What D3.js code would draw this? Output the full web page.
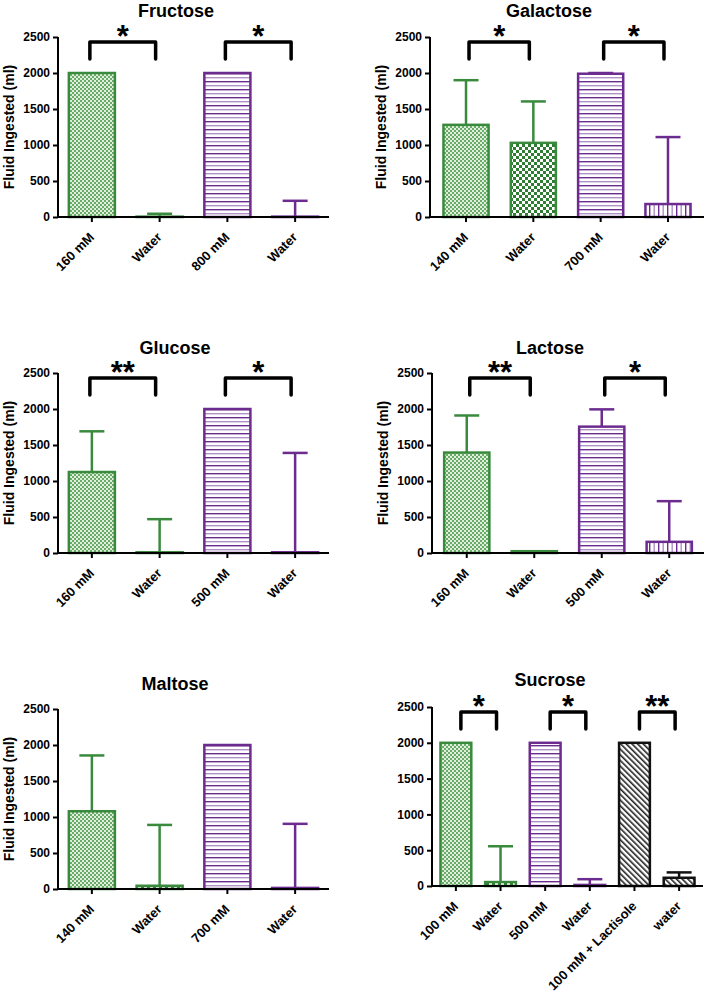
<!DOCTYPE html>
<html><head><meta charset="utf-8">
<script src="https://cdn.jsdelivr.net/npm/d3@7"></script>
<style>
html,body{margin:0;padding:0;background:#fff;}
svg{display:block;font-family:"Liberation Sans",Arial,sans-serif;}
</style></head>
<body>
<svg id="chart" width="708" height="994"></svg>
<script>
// ---------- DATA ----------
const yTicks = [0, 500, 1000, 1500, 2000, 2500];
const yLabel = "Fluid Ingested (ml)";

const fructoseCats = ["160 mM", "Water", "800 mM", "Water"];
const fructoseMeans = [2000, 5, 2000, 5];
const fructoseUpper = [2000, 45, 2000, 225];
const fructoseSig = [[0, 1, "*"], [2, 3, "*"]];

const galactoseCats = ["140 mM", "Water", "700 mM", "Water"];
const galactoseMeans = [1280, 1030, 1990, 180];
const galactoseUpper = [1900, 1605, 2000, 1110];
const galactoseSig = [[0, 1, "*"], [2, 3, "*"]];

const glucoseCats = ["160 mM", "Water", "500 mM", "Water"];
const glucoseMeans = [1125, 10, 2000, 10];
const glucoseUpper = [1690, 470, 2000, 1390];
const glucoseSig = [[0, 1, "**"], [2, 3, "*"]];

const lactoseCats = ["160 mM", "Water", "500 mM", "Water"];
const lactoseMeans = [1395, 25, 1755, 155];
const lactoseUpper = [1910, 25, 1995, 720];
const lactoseSig = [[0, 1, "**"], [2, 3, "*"]];

const maltoseCats = ["140 mM", "Water", "700 mM", "Water"];
const maltoseMeans = [1080, 45, 2000, 15];
const maltoseUpper = [1855, 890, 2000, 905];
const maltoseSig = [];

const sucroseCats = ["100 mM", "Water", "500 mM", "Water", "100 mM + Lactisole", "water"];
const sucroseMeans = [2000, 55, 2000, 15, 2000, 115];
const sucroseUpper = [2000, 555, 2000, 95, 2000, 190];
const sucroseSig = [[0, 1, "*"], [2, 3, "*"], [4, 5, "**"]];

// ---------- STYLE / LAYOUT ----------
const GREEN = "#3a8a3e", PURPLE = "#6c2c8f", BLACK = "#111";
const style4 = {stroke: [GREEN, GREEN, PURPLE, PURPLE], fill: ["fineG", "coarseG", "hLinesP", "vLinesP"]};
const style6 = {stroke: [GREEN, GREEN, PURPLE, PURPLE, BLACK, BLACK], fill: ["fineG", "coarseG", "hLinesP", "vLinesP", "diagK", "diagK"]};

const panels = [
  {title: "Fructose", cats: fructoseCats, means: fructoseMeans, upper: fructoseUpper, sig: fructoseSig, st: style4,
   ax: 58, xEnd: 329, yTop: 37, y0: 217, tx: 176, ty: 17, ylab: true, pi: 0.32, po: 0.16, bIn: -2},
  {title: "Galactose", cats: galactoseCats, means: galactoseMeans, upper: galactoseUpper, sig: galactoseSig, st: style4,
   ax: 430, xEnd: 704, yTop: 37, y0: 217, tx: 549, ty: 17, ylab: true, pi: 0.33, po: 0.2, bIn: 3},
  {title: "Glucose", cats: glucoseCats, means: glucoseMeans, upper: glucoseUpper, sig: glucoseSig, st: style4,
   ax: 58, xEnd: 329, yTop: 373, y0: 553, tx: 175, ty: 354, ylab: true, pi: 0.32, po: 0.16, bIn: -2},
  {title: "Lactose", cats: lactoseCats, means: lactoseMeans, upper: lactoseUpper, sig: lactoseSig, st: style4,
   ax: 432, xEnd: 704, yTop: 373, y0: 553, tx: 550, ty: 354, ylab: true, pi: 0.33, po: 0.18, bIn: 3},
  {title: "Maltose", cats: maltoseCats, means: maltoseMeans, upper: maltoseUpper, sig: maltoseSig, st: style4,
   ax: 58, xEnd: 329, yTop: 709, y0: 889, tx: 175, ty: 690, ylab: true, pi: 0.32, po: 0.16, bIn: 0},
  {title: "Sucrose", cats: sucroseCats, means: sucroseMeans, upper: sucroseUpper, sig: sucroseSig, st: style6,
   ax: 432, xEnd: 703, yTop: 707, y0: 886, tx: 550, ty: 686, ylab: false, pi: 0.31, po: 0.19, bIn: 5}
];

const svg = d3.select("#chart");

// ---------- PATTERNS ----------
const defs = svg.append("defs");
{
  const p = defs.append("pattern").attr("id", "fineG").attr("patternUnits", "userSpaceOnUse").attr("width", 4).attr("height", 4);
  p.append("rect").attr("width", 4).attr("height", 4).attr("fill", "#e0efdc");
  p.append("rect").attr("width", 2).attr("height", 2).attr("fill", "#6aab69");
  p.append("rect").attr("x", 2).attr("y", 2).attr("width", 2).attr("height", 2).attr("fill", "#6aab69");
}
{
  const p = defs.append("pattern").attr("id", "coarseG").attr("patternUnits", "userSpaceOnUse").attr("width", 6).attr("height", 6);
  p.append("rect").attr("width", 6).attr("height", 6).attr("fill", "#fff");
  p.append("rect").attr("width", 3).attr("height", 3).attr("fill", "#2f7d33");
  p.append("rect").attr("x", 3).attr("y", 3).attr("width", 3).attr("height", 3).attr("fill", "#2f7d33");
}
{
  const p = defs.append("pattern").attr("id", "hLinesP").attr("patternUnits", "userSpaceOnUse").attr("width", 8).attr("height", 8);
  p.append("rect").attr("width", 8).attr("height", 8).attr("fill", "#fff");
  p.append("rect").attr("y", 1).attr("width", 8).attr("height", 1.4).attr("fill", "#6c2c8f");
  p.append("rect").attr("y", 5).attr("width", 8).attr("height", 1.4).attr("fill", "#b092c6");
}
{
  const p = defs.append("pattern").attr("id", "vLinesP").attr("patternUnits", "userSpaceOnUse").attr("width", 9).attr("height", 8);
  p.append("rect").attr("width", 9).attr("height", 8).attr("fill", "#fff");
  p.append("rect").attr("x", 1).attr("width", 1.4).attr("height", 8).attr("fill", "#6c2c8f");
  p.append("rect").attr("x", 5.5).attr("width", 1.4).attr("height", 8).attr("fill", "#b092c6");
}
{
  const p = defs.append("pattern").attr("id", "diagK").attr("patternUnits", "userSpaceOnUse").attr("width", 4).attr("height", 4)
    .attr("patternTransform", "rotate(-45)");
  p.append("rect").attr("width", 4).attr("height", 4).attr("fill", "#fff");
  p.append("rect").attr("width", 1.6).attr("height", 4).attr("fill", "#222");
}

// ---------- DRAW ----------
panels.forEach(pn => {
  const g = svg.append("g");
  const x = d3.scaleBand().domain(d3.range(pn.cats.length)).range([pn.ax, pn.xEnd])
    .paddingInner(pn.pi).paddingOuter(pn.po);
  const y = d3.scaleLinear().domain([0, 2500]).range([pn.y0, pn.yTop]);
  const cx = i => x(i) + x.bandwidth() / 2;

  // title
  g.append("text").attr("x", pn.tx).attr("y", pn.ty).attr("text-anchor", "middle")
    .attr("font-size", 18).attr("font-weight", "bold").text(pn.title);

  // y label
  if (pn.ylab) {
    g.append("text").attr("transform", `translate(${pn.ax - 44},${(pn.y0 + pn.yTop) / 2}) rotate(-90)`)
      .attr("text-anchor", "middle").attr("font-size", 14).attr("font-weight", "bold").text(yLabel);
  }

  // error bars (under bars)
  const capW = 25;
  pn.cats.forEach((c, i) => {
    const col = pn.st.stroke[i];
    if (pn.upper[i] > pn.means[i]) {
      g.append("line").attr("x1", cx(i)).attr("x2", cx(i)).attr("y1", y(pn.means[i])).attr("y2", y(pn.upper[i]))
        .attr("stroke", col).attr("stroke-width", 2.5);
      g.append("line").attr("x1", cx(i) - capW / 2).attr("x2", cx(i) + capW / 2).attr("y1", y(pn.upper[i])).attr("y2", y(pn.upper[i]))
        .attr("stroke", col).attr("stroke-width", 2.5);
    }
  });

  // bars
  g.selectAll("rect.bar").data(pn.means).enter().append("rect").attr("class", "bar")
    .attr("x", (d, i) => x(i)).attr("width", x.bandwidth())
    .attr("y", d => y(d)).attr("height", d => pn.y0 - y(d))
    .attr("fill", (d, i) => `url(#${pn.st.fill[i]})`)
    .attr("stroke", (d, i) => pn.st.stroke[i]).attr("stroke-width", 2.5);

  // y axis
  const yAxis = d3.axisLeft(y).tickValues(yTicks).tickSize(5).tickPadding(3).tickFormat(d3.format("d"));
  const ya = g.append("g").attr("transform", `translate(${pn.ax},0)`).call(yAxis);
  ya.select(".domain").attr("stroke", "#000").attr("stroke-width", 2).attr("d", `M0,${pn.y0}V${pn.yTop}`);
  ya.selectAll(".tick line").attr("stroke", "#000").attr("stroke-width", 2);
  ya.selectAll(".tick text").attr("font-size", 12).attr("font-weight", "bold").attr("font-family", "Liberation Sans, Arial, sans-serif").attr("fill", "#000");

  // x axis
  const xAxis = d3.axisBottom(x).tickSize(5).tickFormat(() => "");
  const xa = g.append("g").attr("transform", `translate(0,${pn.y0})`).call(xAxis);
  xa.select(".domain").attr("stroke", "#000").attr("stroke-width", 2).attr("d", `M${pn.ax},0H${pn.xEnd}`);
  xa.selectAll(".tick line").attr("stroke", "#000").attr("stroke-width", 2);

  // x labels
  pn.cats.forEach((c, i) => {
    g.append("text").attr("transform", `translate(${cx(i) + 3},${pn.y0 + 21}) rotate(-45)`)
      .attr("text-anchor", "end").attr("font-size", 13).attr("font-weight", "bold").text(c);
  });

  // significance brackets
  pn.sig.forEach(([a, b, s]) => {
    const x1 = cx(a) + pn.bIn, x2 = cx(b) - 4;
    const top = pn.yTop + 5, end = pn.yTop + 22;
    g.append("path").attr("d", `M${x1},${end}V${top}H${x2}V${end}`)
      .attr("fill", "none").attr("stroke", "#000").attr("stroke-width", 3.5)
      .attr("stroke-linecap", "round").attr("stroke-linejoin", "round");
    g.append("text").attr("x", (x1 + x2) / 2).attr("y", pn.yTop + 10).attr("text-anchor", "middle")
      .attr("font-size", 31).attr("font-weight", "bold").text(s);
  });
});
</script>
</body></html>
